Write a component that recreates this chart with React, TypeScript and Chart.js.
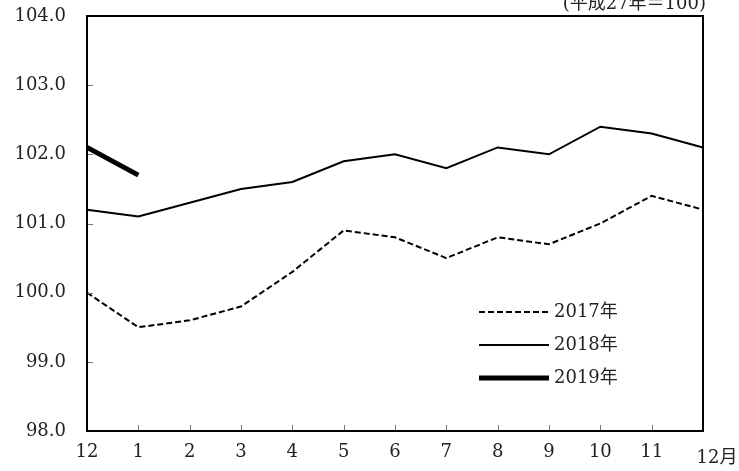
import React, { useEffect, useRef } from "react";
import { Chart, registerables } from "chart.js";

Chart.register(...registerables);

const categories = ["12", "1", "2", "3", "4", "5", "6", "7", "8", "9", "10", "11", "12月"];
const values2017 = [100.0, 99.5, 99.6, 99.8, 100.3, 100.9, 100.8, 100.5, 100.8, 100.7, 101.0, 101.4, 101.2];
const values2018 = [101.2, 101.1, 101.3, 101.5, 101.6, 101.9, 102.0, 101.8, 102.1, 102.0, 102.4, 102.3, 102.1];
const values2019 = [102.1, 101.7, null, null, null, null, null, null, null, null, null, null, null];
const seriesNames = ["2017年", "2018年", "2019年"];
const yMin = 98;
const yMax = 104;
const noteText = "(平成27年＝100)";

const FONT = '"DejaVu Serif", "Liberation Serif", "Noto Sans CJK JP", serif';
const FSIZE = 18;

const framePlugin = {
  id: "frame",
  afterDatasetsDraw(chart: any) {
    const { ctx, chartArea } = chart;
    const { left, right, top, bottom } = chartArea;
    const x = chart.scales.x;
    const y = chart.scales.y;
    ctx.save();
    // inner ticks
    ctx.strokeStyle = "#777";
    ctx.lineWidth = 1;
    ctx.beginPath();
    for (let i = 1; i < categories.length - 1; i++) {
      const px = Math.round(x.getPixelForTick(i)) + 0.5;
      ctx.moveTo(px, bottom);
      ctx.lineTo(px, bottom - 6);
    }
    y.ticks.forEach((t: any, i: number) => {
      const py = Math.round(y.getPixelForTick(i)) + 0.5;
      ctx.moveTo(left, py);
      ctx.lineTo(left + 6, py);
    });
    ctx.stroke();
    // frame
    ctx.strokeStyle = "#000";
    ctx.lineWidth = 2;
    ctx.strokeRect(left, top, right - left, bottom - top);
    // x labels
    ctx.fillStyle = "#222";
    ctx.font = FSIZE + "px " + FONT;
    ctx.textAlign = "center";
    ctx.textBaseline = "middle";
    categories.forEach((c, i) => {
      const px = x.getPixelForTick(i);
      if (i === categories.length - 1) {
        ctx.fillText(c, px + 14, bottom + 27);
      } else {
        ctx.fillText(c, px, bottom + 21);
      }
    });
    // note
    ctx.textAlign = "right";
    ctx.textBaseline = "alphabetic";
    ctx.fillText(noteText, right + 3, 9);
    // legend
    const lx0 = 479;
    const lx1 = 549;
    const rows = [312, 345, 378];
    chart.data.datasets.forEach((ds: any, i: number) => {
      ctx.beginPath();
      ctx.strokeStyle = ds.borderColor;
      ctx.lineWidth = ds.borderWidth;
      ctx.setLineDash(ds.borderDash || []);
      ctx.moveTo(lx0, rows[i]);
      ctx.lineTo(lx1, rows[i]);
      ctx.stroke();
      ctx.setLineDash([]);
      ctx.textAlign = "left";
      ctx.textBaseline = "middle";
      ctx.fillStyle = "#222";
      ctx.fillText(ds.label, lx1 + 5, rows[i]);
    });
    ctx.restore();
  },
};

export default function App() {
  const ref = useRef<HTMLCanvasElement>(null);
  useEffect(() => {
    document.body.style.margin = "0";
    const chart = new Chart(ref.current!, {
      type: "line",
      data: {
        labels: categories,
        datasets: [
          {
            label: seriesNames[0],
            data: values2017,
            borderColor: "#000",
            borderWidth: 2,
            borderDash: [6, 3],
            pointRadius: 0,
            tension: 0,
            fill: false,
          },
          {
            label: seriesNames[1],
            data: values2018,
            borderColor: "#000",
            borderWidth: 2,
            pointRadius: 0,
            tension: 0,
            fill: false,
          },
          {
            label: seriesNames[2],
            data: values2019,
            borderColor: "#000",
            borderWidth: 5,
            pointRadius: 0,
            tension: 0,
            fill: false,
            spanGaps: false,
          },
        ],
      },
      options: {
        animation: false,
        responsive: false,
        maintainAspectRatio: false,
        layout: { padding: { top: 16, right: 36, left: 0, bottom: 0 } },
        plugins: { legend: { display: false }, tooltip: { enabled: false } },
        scales: {
          x: {
            type: "category",
            offset: false,
            grid: { display: false, drawTicks: false },
            border: { display: false },
            ticks: { display: false },
            afterFit: (s: any) => {
              s.height = 40;
            },
          },
          y: {
            min: yMin,
            max: yMax,
            grid: { display: false, drawTicks: false },
            border: { display: false },
            ticks: {
              stepSize: 1,
              padding: 21,
              color: "#222",
              font: { family: FONT, size: FSIZE },
              callback: (v: any) => Number(v).toFixed(1),
            },
            afterFit: (s: any) => {
              s.width = 87;
              s.paddingTop = 0;
              s.paddingBottom = 0;
            },
          },
        },
      },
      plugins: [framePlugin],
    });
    return () => chart.destroy();
  }, []);
  return (
    <div style={{ width: 739, height: 471 }}>
      <canvas ref={ref} width={739} height={471} style={{ display: "block" }} />
    </div>
  );
}
